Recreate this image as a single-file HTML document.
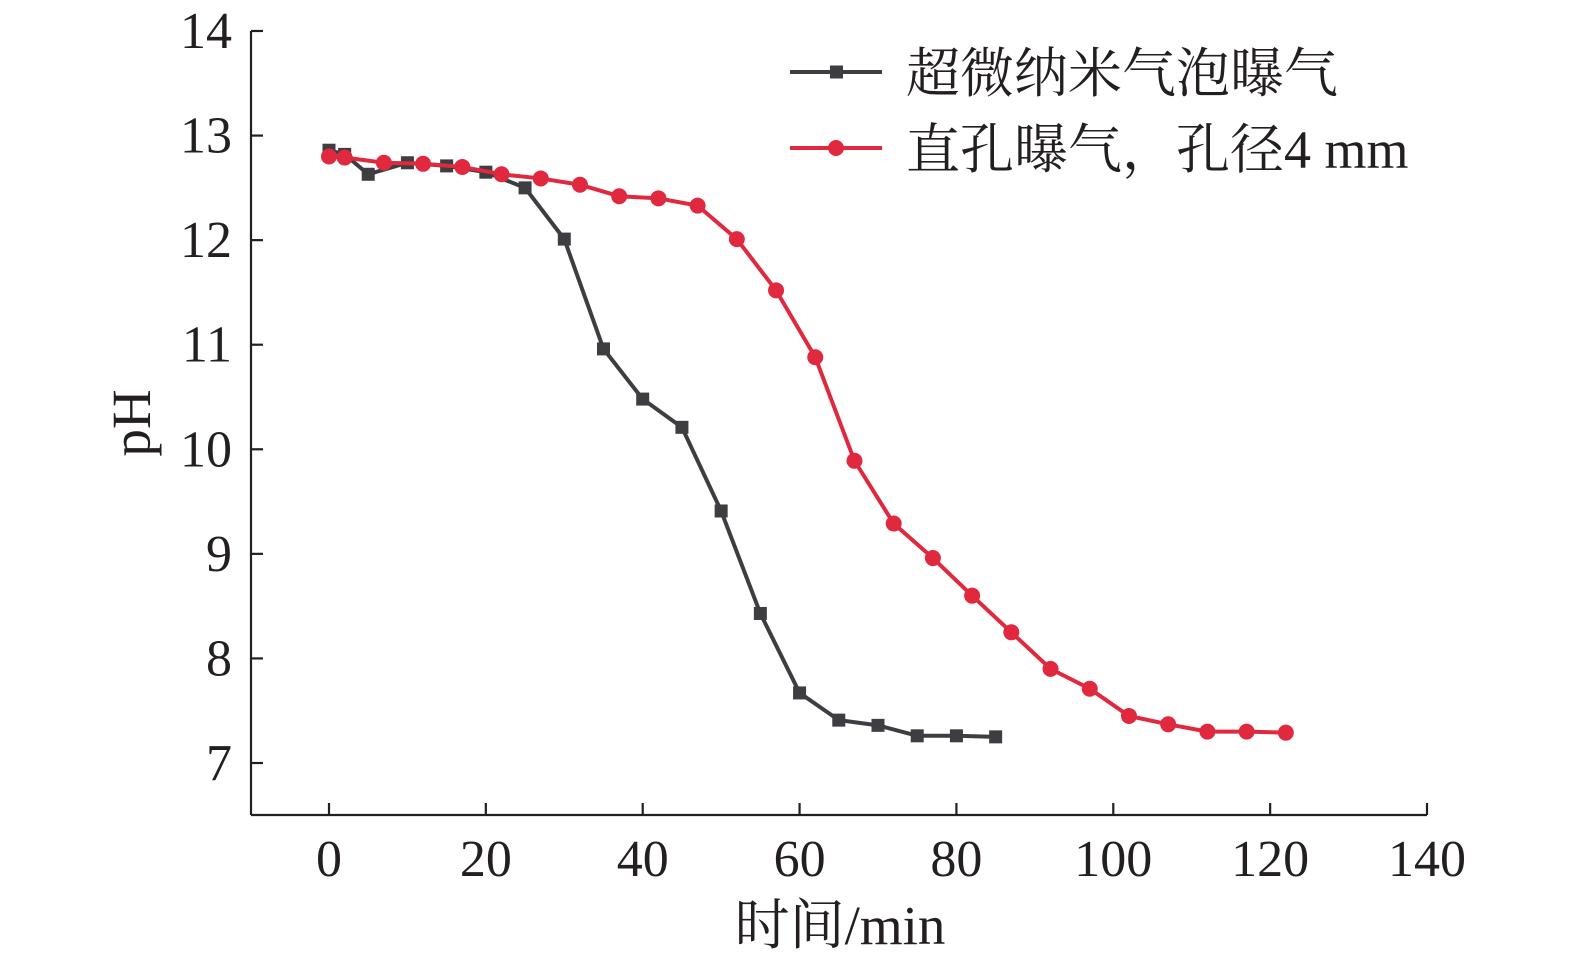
<!DOCTYPE html>
<html><head><meta charset="utf-8"><style>
html,body{margin:0;padding:0;background:#fff;}
svg text{font-family:"Liberation Serif","Noto Serif CJK SC","Noto Sans CJK SC",serif;fill:#231f20;}
</style></head><body>
<svg id="chart" width="1575" height="964" xmlns="http://www.w3.org/2000/svg">
<g id="axes"></g>
<g id="series"></g>
<g id="legend"></g>
</svg>
<script>
const xTicks=[0,20,40,60,80,100,120,140];
const yTicks=[7,8,9,10,11,12,13,14];
const blackX=[0,2,5,10,15,20,25,30,35,40,45,50,55,60,65,70,75,80,85];
const blackY=[12.86,12.82,12.63,12.74,12.71,12.65,12.50,12.01,10.96,10.48,10.21,9.41,8.43,7.67,7.41,7.36,7.26,7.26,7.25];
const redX=[0,2,7,12,17,22,27,32,37,42,47,52,57,62,67,72,77,82,87,92,97,102,107,112,117,122];
const redY=[12.80,12.79,12.74,12.73,12.70,12.63,12.59,12.53,12.42,12.40,12.33,12.01,11.52,10.88,9.89,9.29,8.96,8.60,8.25,7.90,7.71,7.45,7.37,7.30,7.30,7.29];
const seriesNames=["超微纳米气泡曝气","直孔曝气，孔径4 mm"];

const NS="http://www.w3.org/2000/svg";
const sx=v=>329+(v-0)*(1427-329)/140;
const sy=v=>763-(v-7)*(763-31)/7;
function mk(tag,attrs,parent){const e=document.createElementNS(NS,tag);for(const k in attrs)e.setAttribute(k,attrs[k]);parent.appendChild(e);return e;}
const axes=document.getElementById('axes');
const x0=251,yb=815;
let l=mk('line',{x1:x0,y1:yb,x2:1427,y2:yb,stroke:'#231f20','stroke-width':2.2},axes);


l=mk('line',{x1:x0,y1:yb,x2:x0,y2:31,stroke:'#231f20','stroke-width':2.2},axes);


xTicks.forEach(t=>{
  const x=sx(t);
  let tk=mk('line',{x1:x,y1:yb,x2:x,y2:yb-12,stroke:'#231f20','stroke-width':2.2},axes);
  
  
  let tx=mk('text',{x:x,y:876,'text-anchor':'middle','font-size':52},axes);tx.textContent=t;
  
  
});
yTicks.forEach(t=>{
  const y=sy(t);
  let tk=mk('line',{x1:x0,y1:y,x2:x0+12,y2:y,stroke:'#231f20','stroke-width':2.2},axes);
  
  
  let tx=mk('text',{x:232,y:y+17,'text-anchor':'end','font-size':52},axes);tx.textContent=t;
  
  
});
let xt=mk('text',{x:840,y:944,'text-anchor':'middle','font-size':55},axes);xt.textContent='时间/min';


let yt=mk('text',{x:0,y:0,'text-anchor':'middle','font-size':55,transform:'translate(150,423) rotate(-90)'},axes);yt.textContent='pH';



const ser=document.getElementById('series');
function drawSeries(xs,ys,color,marker,name){
  const g=mk('g',{},ser);
  
  
  const p=mk('polyline',{points:xs.map((x,i)=>sx(x)+','+sy(ys[i])).join(' '),fill:'none',stroke:color,'stroke-width':4},g);
  
  
  xs.forEach((x,i)=>{
    let m;
    if(marker==='sq') m=mk('rect',{x:sx(x)-6.5,y:sy(ys[i])-6.5,width:13,height:13,fill:color},g);
    else m=mk('circle',{cx:sx(x),cy:sy(ys[i]),r:8,fill:color},g);
    
    
  });
}
drawSeries(blackX,blackY,'#3d3d42','sq','series-ultrafine-bubble');
drawSeries(redX,redY,'#e0283f','ci','series-straight-hole');

const lg=document.getElementById('legend');
[[ '#3d3d42','sq',72],['#e0283f','ci',148]].forEach((d,i)=>{
  const g=mk('g',{},lg);
  
  
  mk('line',{x1:790,y1:d[2],x2:882,y2:d[2],stroke:d[0],'stroke-width':4},g);
  if(d[1]==='sq') mk('rect',{x:830,y:d[2]-6.5,width:13,height:13,fill:d[0]},g);
  else mk('circle',{cx:836,cy:d[2],r:8,fill:d[0]},g);
  const t=mk('text',{x:906,y:d[2]+20,'font-size':54},g);t.textContent=seriesNames[i];
});
</script>
</body></html>
